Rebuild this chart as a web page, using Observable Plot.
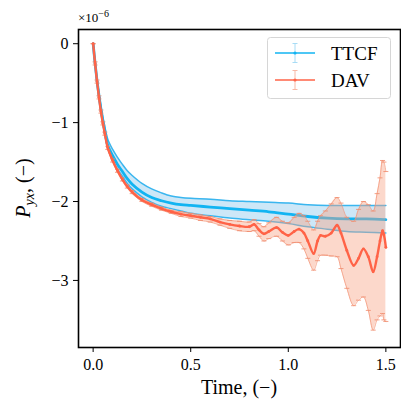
<!DOCTYPE html>
<html><head><meta charset="utf-8">
<script src="https://cdn.jsdelivr.net/npm/d3@7"></script>
<script src="https://cdn.jsdelivr.net/npm/@observablehq/plot@0.6"></script>
<style>body{margin:0;background:#fff}#chart{width:401px;height:401px}#chart svg text{font-family:"Liberation Serif",serif}</style>
</head><body><div id="chart"></div>
<script>
// TTCF series (values in units of 1e-6)
const ttcfTime  = [0, 0.01, 0.02, 0.03, 0.04, 0.05, 0.06, 0.075, 0.1, 0.125, 0.15, 0.175, 0.2, 0.25, 0.3, 0.35, 0.4, 0.45, 0.5, 0.6, 0.7, 0.8, 0.9, 1.0, 1.1, 1.2, 1.3, 1.4, 1.5];
const ttcfMean  = [0, -0.25, -0.47, -0.66, -0.83, -0.98, -1.11, -1.29, -1.42, -1.53, -1.62, -1.71, -1.78, -1.88, -1.95, -1.99, -2.02, -2.04, -2.05, -2.07, -2.09, -2.11, -2.13, -2.16, -2.19, -2.21, -2.22, -2.22, -2.23];
const ttcfUpper = [0, -0.24, -0.45, -0.63, -0.79, -0.93, -1.05, -1.21, -1.34, -1.44, -1.53, -1.61, -1.67, -1.77, -1.84, -1.89, -1.93, -1.95, -1.96, -1.97, -1.99, -2.00, -2.01, -2.02, -2.04, -2.05, -2.05, -2.05, -2.05];
const ttcfLower = [0, -0.26, -0.49, -0.68, -0.86, -1.01, -1.15, -1.33, -1.48, -1.59, -1.68, -1.77, -1.84, -1.94, -2.01, -2.06, -2.09, -2.12, -2.15, -2.18, -2.21, -2.23, -2.25, -2.28, -2.32, -2.35, -2.38, -2.39, -2.40];

// DAV series (values in units of 1e-6)
const davTime  = [0, 0.01, 0.02, 0.03, 0.04, 0.05, 0.06, 0.075, 0.1, 0.125, 0.15, 0.175, 0.2, 0.25, 0.3, 0.35, 0.4, 0.45, 0.5, 0.55, 0.6, 0.65, 0.7, 0.75, 0.8, 0.825, 0.85, 0.875, 0.9, 0.94, 0.97, 1.0, 1.03, 1.055, 1.08, 1.1, 1.13, 1.15, 1.165, 1.19, 1.22, 1.25, 1.27, 1.3, 1.335, 1.36, 1.385, 1.41, 1.435, 1.455, 1.47, 1.483, 1.49, 1.5];
const davMean  = [0, -0.25, -0.48, -0.68, -0.86, -1.01, -1.14, -1.32, -1.48, -1.61, -1.72, -1.81, -1.88, -1.98, -2.04, -2.09, -2.13, -2.16, -2.18, -2.20, -2.22, -2.26, -2.29, -2.31, -2.32, -2.29, -2.36, -2.41, -2.38, -2.33, -2.39, -2.43, -2.38, -2.35, -2.40, -2.50, -2.66, -2.50, -2.43, -2.44, -2.40, -2.30, -2.40, -2.62, -2.81, -2.72, -2.60, -2.70, -2.89, -2.70, -2.50, -2.37, -2.42, -2.58];
const davUpper = [0, -0.23, -0.46, -0.66, -0.84, -0.99, -1.12, -1.30, -1.46, -1.59, -1.70, -1.79, -1.86, -1.96, -2.02, -2.07, -2.11, -2.13, -2.15, -2.17, -2.19, -2.22, -2.24, -2.25, -2.26, -2.23, -2.28, -2.32, -2.27, -2.20, -2.25, -2.27, -2.20, -2.15, -2.18, -2.25, -2.36, -2.25, -2.18, -2.12, -2.03, -1.95, -2.02, -2.20, -2.25, -2.10, -2.00, -2.04, -2.12, -1.90, -1.70, -1.48, -1.50, -1.62];
const davLower = [0, -0.27, -0.50, -0.70, -0.88, -1.03, -1.16, -1.34, -1.50, -1.63, -1.74, -1.83, -1.90, -2.00, -2.06, -2.11, -2.15, -2.19, -2.21, -2.24, -2.26, -2.30, -2.34, -2.37, -2.38, -2.37, -2.44, -2.50, -2.47, -2.44, -2.50, -2.55, -2.52, -2.52, -2.60, -2.72, -2.87, -2.75, -2.68, -2.68, -2.69, -2.70, -2.85, -3.10, -3.32, -3.25, -3.21, -3.38, -3.63, -3.50, -3.45, -3.42, -3.50, -3.52];

const xTicks = [0, 0.5, 1.0, 1.5];
const yTicks = [0, -1, -2, -3];
const seriesNames = ["TTCF", "DAV"];
const seriesColors = ["#12b4f2", "#ff6347"];

const ttcf = ttcfTime.map((t, i) => ({t, m: ttcfMean[i], hi: ttcfUpper[i], lo: ttcfLower[i]}));
const dav = davTime.map((t, i) => ({t, m: davMean[i], hi: davUpper[i], lo: davLower[i]}));

const capSymbol = {draw(ctx, size) { const r = Math.sqrt(size / Math.PI); ctx.moveTo(-r, 0); ctx.lineTo(r, 0); }};
const FONT = "'Liberation Serif', serif";

const svg = Plot.plot({
  width: 401, height: 401,
  marginLeft: 78, marginRight: 1, marginTop: 29, marginBottom: 54,
  style: {fontFamily: FONT, fontSize: "16px", color: "black", background: "white"},
  x: {domain: [-0.075, 1.575], ticks: xTicks, tickFormat: d3.format(".1f"), label: null, tickSize: 5, tickPadding: 6},
  y: {domain: [-3.85, 0.18], ticks: yTicks, tickFormat: d => d === 0 ? "0" : "\u2212" + Math.abs(d), label: null, tickSize: 5, tickPadding: 5},
  marks: [
    Plot.areaY(ttcf, {x: "t", y1: "lo", y2: "hi", fill: "#9ccff0", fillOpacity: 0.5, curve: "catmull-rom"}),
    Plot.lineY(ttcf, {x: "t", y: "hi", stroke: "#3ab6ef", strokeWidth: 1.5, curve: "catmull-rom"}),
    Plot.lineY(ttcf, {x: "t", y: "lo", stroke: "#3ab6ef", strokeWidth: 1.5, curve: "catmull-rom"}),
    Plot.lineY(ttcf, {x: "t", y: "m", stroke: seriesColors[0], strokeWidth: 2.8, curve: "catmull-rom"}),
    Plot.areaY(dav, {x: "t", y1: "lo", y2: "hi", fill: "#f7a183", fillOpacity: 0.42, curve: "catmull-rom"}),
    Plot.lineY(dav, {x: "t", y: "hi", stroke: "#f29274", strokeWidth: 1, strokeOpacity: 0.7, curve: "catmull-rom"}),
    Plot.lineY(dav, {x: "t", y: "lo", stroke: "#f29274", strokeWidth: 1, strokeOpacity: 0.7, curve: "catmull-rom"}),
    Plot.dot(dav, {x: "t", y: "hi", symbol: capSymbol, r: 2.5, stroke: "#f08a6a", strokeWidth: 1, strokeOpacity: 0.8}),
    Plot.dot(dav, {x: "t", y: "lo", symbol: capSymbol, r: 2.5, stroke: "#f08a6a", strokeWidth: 1, strokeOpacity: 0.8}),
    Plot.lineY(dav, {x: "t", y: "m", stroke: seriesColors[1], strokeWidth: 2.4, curve: "catmull-rom"}),
    Plot.dot(dav, {x: "t", y: "m", r: 1.4, fill: seriesColors[1]}),
    Plot.frame({stroke: "black", strokeWidth: 1.6})
  ]
});

const g = d3.select(svg);

// multiplier label
const mult = g.append("text").attr("x", 78).attr("y", 22).attr("text-anchor", "start")
  .style("font-family", FONT).attr("font-size", 13).attr("fill", "black");
mult.append("tspan").text("\u00d710");
mult.append("tspan").attr("font-size", 10).attr("dy", -5).text("\u22126");

// x label
g.append("text").attr("x", 239).attr("y", 394).attr("text-anchor", "middle")
  .style("font-family", FONT).attr("font-size", 20).attr("fill", "black").text("Time, (\u2212)");

// y label
const yl = g.append("text").attr("transform", "translate(30,188) rotate(-90)").attr("text-anchor", "middle")
  .style("font-family", FONT).attr("font-size", 20).attr("fill", "black");
yl.append("tspan").attr("font-style", "italic").text("P");
yl.append("tspan").attr("font-style", "italic").attr("font-size", 14).attr("dy", 4).text("yx");
yl.append("tspan").attr("dy", -4).text(", (\u2212)");

// legend
const lg = g.append("g");
lg.append("rect").attr("x", 267.5).attr("y", 37.5).attr("width", 123).attr("height", 61).attr("rx", 3)
  .attr("fill", "white").attr("fill-opacity", 0.8).attr("stroke", "#d6d6d6");
const lightCols = ["#a8dcf5", "#f8b9a6"];
seriesNames.forEach((name, i) => {
  const cy = 53 + i * 27;
  lg.append("line").attr("x1", 295).attr("x2", 295).attr("y1", cy - 9.5).attr("y2", cy + 9.5).attr("stroke", lightCols[i]).attr("stroke-width", 1);
  [cy - 9.5, cy + 9.5].forEach(yy => lg.append("line").attr("x1", 292.5).attr("x2", 297.5).attr("y1", yy).attr("y2", yy).attr("stroke", lightCols[i]).attr("stroke-width", 1));
  lg.append("line").attr("x1", 275).attr("x2", 315).attr("y1", cy).attr("y2", cy).attr("stroke", seriesColors[i]).attr("stroke-width", 1.5);
  lg.append("circle").attr("cx", 295).attr("cy", cy).attr("r", 1.6).attr("fill", seriesColors[i]);
  lg.append("text").attr("x", 331).attr("y", cy + 6.5).attr("text-anchor", "start")
    .style("font-family", FONT).attr("font-size", 19).attr("fill", "black").text(name);
});

document.getElementById("chart").appendChild(svg);
</script>
</body></html>
